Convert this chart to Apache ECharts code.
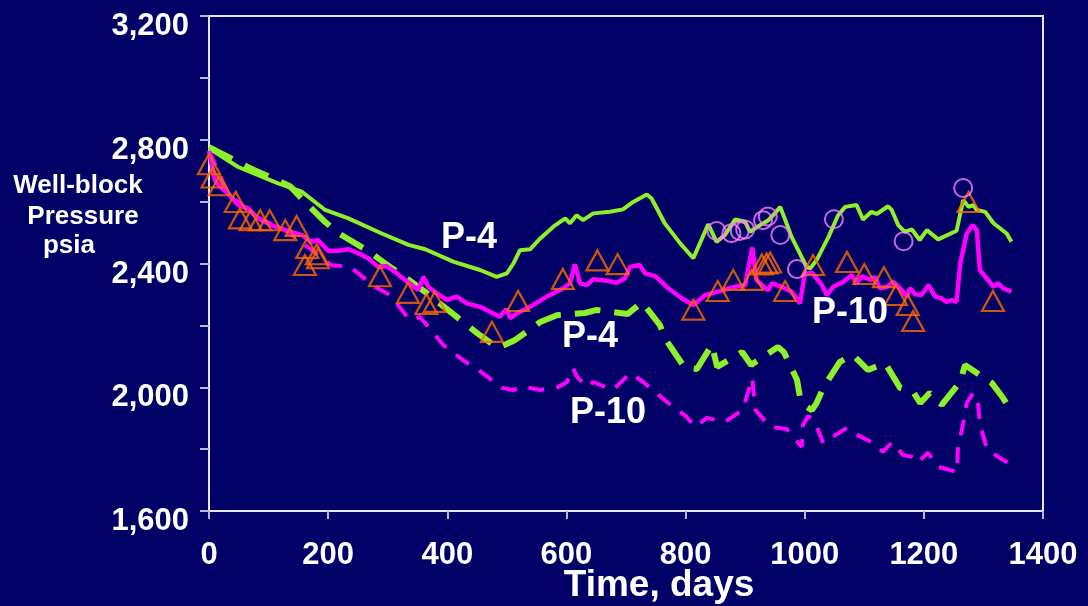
<!DOCTYPE html>
<html>
<head>
<meta charset="utf-8">
<script src="https://cdn.jsdelivr.net/npm/echarts@6/dist/echarts.min.js"></script>
<style>
html,body{margin:0;padding:0;background:#000066;}
#chart{width:1088px;height:606px;}
</style>
</head>
<body>
<div id="chart"></div>
<script>
// ---- DATA (day, psia) ----
const xTicks = [0, 200, 400, 600, 800, 1000, 1200, 1400];
const yTicks = [1600, 2000, 2400, 2800, 3200];

// P-4 simulated (upper, solid green)
const p4Solid = [[0,2772],[49,2712],[116,2659],[156,2632],[195,2573],[234,2546],[290,2497],[335,2460],[363,2446],[410,2406],[455,2379],[483,2357],[500,2368],[511,2400],[522,2443],[539,2446],[556,2481],[578,2519],[598,2546],[606,2530],[617,2556],[628,2540],[645,2562],[673,2567],[695,2575],[712,2599],[735,2623],[743,2610],[765,2530],[791,2465],[813,2417],[824,2465],[838,2527],[852,2470],[866,2492],[883,2542],[900,2535],[908,2502],[925,2524],[939,2540],[947,2556],[959,2583],[978,2486],[1003,2389],[1009,2384],[1020,2411],[1040,2486],[1056,2556],[1068,2583],[1087,2589],[1098,2542],[1112,2567],[1121,2560],[1140,2585],[1146,2573],[1157,2524],[1168,2502],[1180,2510],[1193,2476],[1205,2508],[1224,2478],[1255,2506],[1266,2605],[1275,2583],[1283,2589],[1289,2573],[1303,2567],[1317,2530],[1339,2497],[1347,2470]];

// P-10 simulated (upper, solid magenta)
const p10Solid = [[0,2764],[10,2669],[16,2653],[32,2626],[49,2589],[66,2578],[80,2549],[105,2524],[128,2508],[156,2492],[172,2470],[183,2476],[200,2441],[217,2441],[234,2446],[251,2433],[267,2417],[284,2389],[298,2392],[312,2373],[329,2347],[337,2336],[351,2314],[360,2357],[368,2325],[382,2304],[399,2282],[416,2293],[433,2271],[455,2260],[488,2228],[499,2252],[506,2223],[517,2239],[539,2260],[567,2293],[595,2320],[606,2336],[614,2397],[623,2336],[634,2330],[645,2349],[668,2344],[684,2338],[698,2352],[707,2389],[723,2395],[732,2368],[749,2359],[771,2320],[794,2287],[813,2266],[833,2298],[855,2309],[883,2325],[900,2330],[912,2452],[919,2347],[931,2325],[939,2314],[945,2336],[961,2325],[978,2309],[992,2271],[1000,2366],[1012,2370],[1029,2330],[1037,2298],[1048,2325],[1065,2341],[1079,2363],[1087,2336],[1096,2359],[1110,2347],[1118,2357],[1126,2320],[1138,2325],[1149,2341],[1163,2314],[1171,2293],[1177,2320],[1185,2301],[1196,2298],[1208,2330],[1219,2293],[1230,2287],[1238,2276],[1247,2282],[1255,2276],[1261,2400],[1272,2497],[1282,2524],[1289,2508],[1294,2379],[1317,2325],[1325,2336],[1333,2320],[1347,2309]];

// P-4 second case (lower, dashed green)
const p4Dashed = [[0,2776],[69,2708],[136,2650],[153,2615],[195,2534],[220,2495],[270,2437],[295,2401],[329,2356],[363,2308],[418,2224],[450,2175],[485,2127],[514,2153],[556,2211],[584,2233],[631,2240],[651,2250],[703,2237],[727,2275],[757,2201],[765,2159],[799,2062],[819,2059],[844,2137],[853,2066],[895,2114],[910,2072],[955,2130],[965,2114],[987,2024],[992,1969],[1004,1936],[1012,1926],[1020,1949],[1031,1998],[1059,2082],[1081,2104],[1106,2056],[1135,2078],[1160,1998],[1182,1985],[1194,1949],[1210,1982],[1230,1943],[1261,2017],[1269,2072],[1314,2014],[1333,1965],[1348,1920]];

// P-10 second case (lower, dashed magenta)
const p10Dashed = [[0,2764],[32,2626],[79,2550],[128,2508],[161,2460],[205,2395],[237,2389],[279,2324],[304,2298],[337,2217],[354,2227],[373,2185],[393,2137],[426,2088],[452,2056],[492,1998],[510,1991],[530,2001],[556,1991],[586,2001],[601,2017],[611,2062],[618,2033],[635,2001],[645,2017],[678,1991],[707,2046],[729,2017],[771,1949],[802,1904],[816,1872],[836,1901],[866,1888],[896,1927],[912,2030],[917,1927],[942,1872],[970,1865],[995,1807],[997,1878],[1006,1907],[1018,1885],[1031,1820],[1071,1869],[1088,1846],[1115,1820],[1131,1791],[1147,1823],[1165,1781],[1180,1775],[1189,1756],[1207,1788],[1224,1743],[1256,1726],[1257,1798],[1266,1885],[1272,1949],[1283,1982],[1291,1943],[1294,1885],[1306,1798],[1333,1765],[1348,1749]];

// Observed P-10 (triangles)
const p10Observed = [[0,2721],[6,2678],[18,2653],[45,2599],[52,2546],[70,2540],[86,2540],[102,2540],[128,2508],[147,2521],[165,2450],[161,2395],[181,2430],[183,2417],[287,2359],[334,2305],[365,2269],[379,2276],[475,2179],[519,2279],[594,2350],[652,2410],[686,2398],[813,2251],[854,2311],[880,2347],[911,2347],[928,2397],[936,2400],[942,2403],[967,2311],[1014,2395],[1071,2405],[1100,2366],[1133,2356],[1153,2298],[1173,2266],[1182,2214],[1275,2599],[1316,2279]];

// Observed P-4 (circles)
const p4Observed = [[852,2505],[877,2498],[891,2505],[900,2510],[930,2540],[938,2552],[959,2492],[987,2382],[1049,2543],[1166,2472],[1266,2644]];

// ---- CHART ----
const FONT = '"Liberation Sans", Arial, sans-serif';
const GREEN = '#8cf02a';
const MAGENTA = '#ff00ff';
const ORANGE = '#ff6a00';
const PINK = '#ff80ff';
const AXIS = '#e6e6ee';

const chart = echarts.init(document.getElementById('chart'), null, {renderer: 'canvas'});

function txt(x, y, s, size, z) {
  return {type: 'text', x: x, y: y, z: z || 50,
    style: {text: s, fill: '#fff', font: 'bold ' + size + 'px ' + FONT,
      textAlign: 'center', textVerticalAlign: 'middle', align: 'center', verticalAlign: 'middle'}};
}

const option = {
  backgroundColor: '#000066',
  animation: false,
  grid: {
    left: 209, top: 16, right: 45, bottom: 95,
    show: true, borderColor: AXIS, borderWidth: 2, backgroundColor: 'transparent'
  },
  xAxis: {
    type: 'value', min: xTicks[0], max: xTicks[xTicks.length - 1], interval: 200,
    axisLine: {show: true, lineStyle: {color: AXIS, width: 2}},
    axisTick: {show: true, length: 8, inside: false, lineStyle: {color: '#b8b8cc', width: 2}},
    splitLine: {show: false},
    axisLabel: {color: '#ffffff', fontFamily: FONT, fontWeight: 'bold', fontSize: 31, margin: 29,
      formatter: v => String(v)}
  },
  yAxis: {
    type: 'value', min: yTicks[0], max: yTicks[yTicks.length - 1], interval: 200,
    axisLine: {show: true, lineStyle: {color: AXIS, width: 2}},
    axisTick: {show: true, length: 9, inside: false, lineStyle: {color: '#b8b8cc', width: 2}},
    splitLine: {show: false},
    axisLabel: {color: '#ffffff', fontFamily: FONT, fontWeight: 'bold', fontSize: 31, margin: 20,
      verticalAlign: 'top', lineHeight: 21,
      formatter: v => yTicks.indexOf(v) >= 0 ? v.toLocaleString('en-US') : ''}
  },
  graphic: [
    txt(78, 186, 'Well-block', 26),
    txt(83, 217, 'Pressure', 26),
    txt(69, 246, 'psia', 26),
    txt(659, 586, 'Time, days', 37),
    txt(469, 238, 'P-4', 36, 100),
    txt(590, 337, 'P-4', 36, 100),
    txt(608, 413, 'P-10', 36, 100),
    txt(850, 313, 'P-10', 36, 100)
  ],
  series: [
    {type: 'line', name: 'P-4 dashed', data: p4Dashed, showSymbol: false, symbol: 'none', z: 2,
      lineStyle: {color: GREEN, width: 6, type: [26, 14], cap: 'butt'}},
    {type: 'line', name: 'P-10 dashed', data: p10Dashed, showSymbol: false, symbol: 'none', z: 2,
      lineStyle: {color: MAGENTA, width: 4, type: [16, 12], cap: 'butt'}},
    {type: 'line', name: 'P-4', data: p4Solid, showSymbol: false, symbol: 'none', z: 3,
      lineStyle: {color: GREEN, width: 4}},
    {type: 'line', name: 'P-10', data: p10Solid, showSymbol: false, symbol: 'none', z: 3,
      lineStyle: {color: MAGENTA, width: 4.5}},
    {type: 'scatter', name: 'P-10 observed', data: p10Observed, symbol: 'triangle', symbolSize: [22, 20], z: 4,
      itemStyle: {color: 'transparent', borderColor: ORANGE, borderWidth: 2.2}},
    {type: 'scatter', name: 'P-4 observed', data: p4Observed, symbol: 'circle', symbolSize: 18, z: 4,
      itemStyle: {color: 'transparent', borderColor: PINK, borderWidth: 2}}
  ]
};
chart.setOption(option);
</script>
</body>
</html>
